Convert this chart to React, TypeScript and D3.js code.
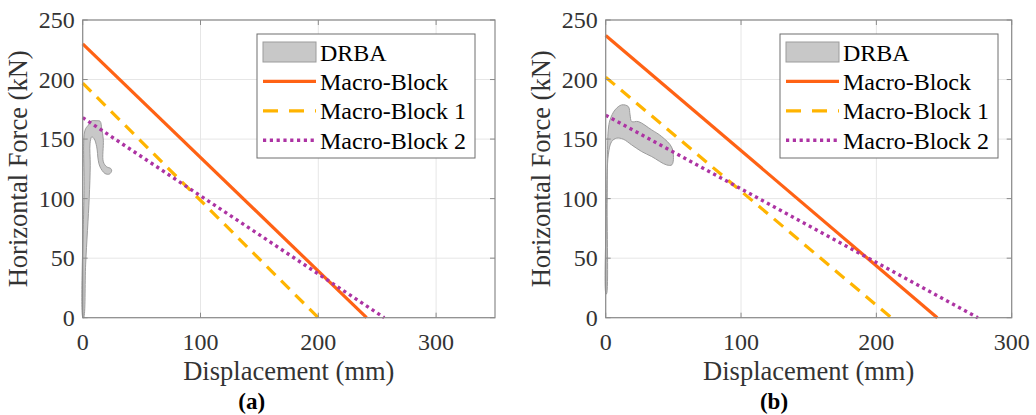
import React from "react";
import * as d3 from "d3";

// ---- data -------------------------------------------------------------
const forceTicks = [0, 50, 100, 150, 200, 250];
const dispTicks = [0, 100, 200, 300];
const legendLabels = ["DRBA", "Macro-Block", "Macro-Block 1", "Macro-Block 2"];

// (a) analytical macro-block capacity lines: [displacement mm, force kN]
const macroBlockA: [number, number][] = [[0, 230], [241, 0]];
const macroBlock1A: [number, number][] = [[0, 197], [200, 0]];
const macroBlock2A: [number, number][] = [[0, 168], [256, 0]];

// (b) analytical macro-block capacity lines
const macroBlockB: [number, number][] = [[0, 237], [245, 0]];
const macroBlock1B: [number, number][] = [[0, 202], [211, 0]];
const macroBlock2B: [number, number][] = [[0, 170], [275, 0]];

// DRBA response envelope (upper branch then lower branch back to start)
const drbaA: [number, number][] = [
  [0.2, 0], [1.2, 107], [2, 157.5], [4.8, 161.7], [7.6, 165.3], [11.3, 165.4],
  [14.7, 165], [16.1, 159.1], [17.5, 149.1], [17.5, 130.9], [20.4, 126.7],
  [23.8, 125.3], [24.6, 123.3],
  [22.6, 120.6], [18.9, 121.1], [14.7, 126.7], [13.2, 132.3], [11.9, 143.5],
  [9.6, 150.5], [7.6, 151.8], [6.2, 146], [6.4, 128], [5.5, 100], [2.5, 45],
  [0.8, 0],
];
const drbaB: [number, number][] = [
  [0.2, 20], [0.7, 100], [1.2, 130], [1.9, 157.7], [3.2, 166.1], [6.9, 174.5],
  [11.8, 178.7], [16.7, 177.3], [18, 170.3], [19.2, 164.7], [24.1, 164.7],
  [34, 157.7], [41.4, 152.1], [49, 142.5],
  [49, 128.5], [45, 128.3], [34, 135.3], [26.6, 139.5], [19.2, 145.1],
  [13, 149.9], [8.1, 150.8], [4.4, 147.9], [1.9, 136.7], [1.1, 100], [0.6, 20],
];

// ---- styling ------------------------------------------------------------
const SERIF = { fontFamily: "Liberation Serif" };
const C_SOLID = "#ff6214";
const C_DASH = "#ffb400";
const C_DOT = "#ad33a3";
const C_FILL = "#c8c8c8";
const C_FILL_EDGE = "#9c9c9c";
const C_AXIS = "#8a8a8a";
const C_GRID = "#e6e6e6";
const C_TEXT = "#333333";

type PanelProps = {
  left: number;
  right: number;
  xMax: number;
  caption: string;
  captionX: number;
  legendX: number;
  drba: [number, number][];
  mb: [number, number][];
  mb1: [number, number][];
  mb2: [number, number][];
};

const TOP = 20;
const BOTTOM = 317.7;

function Panel(p: PanelProps) {
  const x = d3.scaleLinear().domain([0, p.xMax]).range([p.left, p.right]);
  const y = d3.scaleLinear().domain([0, 250]).range([BOTTOM, TOP]);
  const line = d3.line<[number, number]>().x((d) => x(d[0])).y((d) => y(d[1]));
  const area = d3
    .line<[number, number]>()
    .x((d) => x(d[0]))
    .y((d) => y(d[1]))
    .curve(d3.curveCatmullRomClosed.alpha(0.5));
  const tickLen = 5;
  const cx = (p.left + p.right) / 2;
  const cy = (TOP + BOTTOM) / 2;

  const lg = { x: p.legendX, y: 34, w: 218, h: 124 };
  const rowY = (i: number) => lg.y + 18 + i * 29.4;

  return (
    <g>
      {/* grid */}
      {dispTicks.map((t) => (
        <line key={"gx" + t} x1={x(t)} x2={x(t)} y1={TOP} y2={BOTTOM} stroke={C_GRID} strokeWidth={1} />
      ))}
      {forceTicks.map((t) => (
        <line key={"gy" + t} x1={p.left} x2={p.right} y1={y(t)} y2={y(t)} stroke={C_GRID} strokeWidth={1} />
      ))}

      {/* data */}
      <path d={area(p.drba) ?? ""} fill={C_FILL} stroke={C_FILL_EDGE} strokeWidth={1} />
      <path d={line(p.mb) ?? ""} fill="none" stroke={C_SOLID} strokeWidth={3.2} />
      <path d={line(p.mb1) ?? ""} fill="none" stroke={C_DASH} strokeWidth={3.2} strokeDasharray="12 8" />
      <path d={line(p.mb2) ?? ""} fill="none" stroke={C_DOT} strokeWidth={3.4} strokeDasharray="3.2 3.6" />

      {/* box and ticks */}
      <rect x={p.left} y={TOP} width={p.right - p.left} height={BOTTOM - TOP} fill="none" stroke={C_AXIS} strokeWidth={1.2} />
      {dispTicks.map((t) => (
        <g key={"tx" + t}>
          <line x1={x(t)} x2={x(t)} y1={BOTTOM} y2={BOTTOM - tickLen} stroke={C_AXIS} />
          <line x1={x(t)} x2={x(t)} y1={TOP} y2={TOP + tickLen} stroke={C_AXIS} />
          <text x={x(t)} y={BOTTOM + 32} textAnchor="middle" fontSize={24} fill={C_TEXT} style={SERIF}>
            {t}
          </text>
        </g>
      ))}
      {forceTicks.map((t) => (
        <g key={"ty" + t}>
          <line x1={p.left} x2={p.left + tickLen} y1={y(t)} y2={y(t)} stroke={C_AXIS} />
          <line x1={p.right} x2={p.right - tickLen} y1={y(t)} y2={y(t)} stroke={C_AXIS} />
          <text x={p.left - 8} y={y(t)} dy="0.34em" textAnchor="end" fontSize={24} fill={C_TEXT} style={SERIF}>
            {t}
          </text>
        </g>
      ))}

      {/* axis labels */}
      <text x={cx} y={380} textAnchor="middle" fontSize={26.5} fill={C_TEXT} style={SERIF}>
        Displacement (mm)
      </text>
      <text
        transform={`translate(${p.left - 56},${cy}) rotate(-90)`}
        textAnchor="middle"
        fontSize={26.5}
        fill={C_TEXT}
        style={SERIF}
      >
        Horizontal Force (kN)
      </text>
      <text x={p.captionX} y={409} textAnchor="middle" fontSize={23} fontWeight="bold" fill="#000" style={SERIF}>
        {p.caption}
      </text>

      {/* legend */}
      <rect x={lg.x} y={lg.y} width={lg.w} height={lg.h} fill="#fff" stroke="#6e6e6e" strokeWidth={1} />
      <rect x={lg.x + 6} y={rowY(0) - 10} width={53} height={20} fill={C_FILL} stroke={C_FILL_EDGE} strokeWidth={1} />
      <line x1={lg.x + 6} x2={lg.x + 59} y1={rowY(1)} y2={rowY(1)} stroke={C_SOLID} strokeWidth={3.2} />
      <line x1={lg.x + 6} x2={lg.x + 59} y1={rowY(2)} y2={rowY(2)} stroke={C_DASH} strokeWidth={3.2} strokeDasharray="15 11" />
      <line x1={lg.x + 6} x2={lg.x + 59} y1={rowY(3)} y2={rowY(3)} stroke={C_DOT} strokeWidth={3.4} strokeDasharray="3.2 3.6" />
      {legendLabels.map((s, i) => (
        <text key={s} x={lg.x + 63} y={rowY(i) + 8.5} fontSize={24} fill="#000" style={SERIF}>
          {s}
        </text>
      ))}
    </g>
  );
}

export default function App() {
  return (
    <svg
      width={1036}
      height={415}
      style={{ position: "absolute", left: 0, top: 0, background: "#fff" }}
    >
      <rect width={1036} height={415} fill="#fff" />
      <Panel
        left={82.7}
        right={495}
        xMax={350}
        caption="(a)"
        captionX={251.7}
        legendX={257}
        drba={drbaA}
        mb={macroBlockA}
        mb1={macroBlock1A}
        mb2={macroBlock2A}
      />
      <Panel
        left={605.7}
        right={1011.7}
        xMax={300}
        caption="(b)"
        captionX={774}
        legendX={780}
        drba={drbaB}
        mb={macroBlockB}
        mb1={macroBlock1B}
        mb2={macroBlock2B}
      />
    </svg>
  );
}
